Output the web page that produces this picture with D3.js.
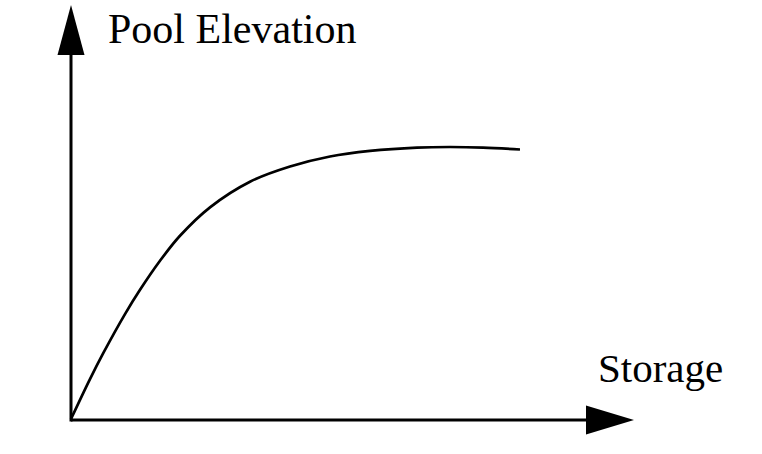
<!DOCTYPE html>
<html>
<head>
<meta charset="utf-8">
<script src="https://cdn.jsdelivr.net/npm/d3@7"></script>
<style>
  html, body { margin: 0; padding: 0; background: #fff; }
  svg { display: block; }
</style>
</head>
<body>
<svg id="chart" width="762" height="454"></svg>
<script>
// Data (abstract units, schematic curve)
const storage   = [0, 3.37, 5.68, 9.59, 12.26, 15.81, 19.36, 24.69, 31.79, 38.90, 46.00, 53.11, 61.46, 67.32, 73.18, 79.75];
const elevation = [0.24, 9.86, 15.98, 25.52, 31.37, 38.36, 44.39, 51.25, 57.42, 61.08, 63.49, 64.84, 65.64, 65.78, 65.64, 65.18];
const axisLabels = ["Storage", "Pool Elevation"];

const svg = d3.select("#chart");
const x = d3.scaleLinear().domain([0, 100]).range([71, 634]);
const y = d3.scaleLinear().domain([0, 100]).range([420, 5]);

// axes lines
svg.append("line").attr("x1", x(0)).attr("y1", y(0)).attr("x2", x(100) - 45).attr("y2", y(0))
  .attr("stroke", "#000").attr("stroke-width", 3);
svg.append("line").attr("x1", x(0)).attr("y1", y(0) + 1.5).attr("x2", x(0)).attr("y2", y(100) + 45)
  .attr("stroke", "#000").attr("stroke-width", 3);

// arrowheads
const xt = [x(100), y(0)];
svg.append("path")
  .attr("d", `M${xt[0]},${xt[1]} L${xt[0] - 48},${xt[1] - 14.5} L${xt[0] - 48},${xt[1] + 14.5} Z`)
  .attr("fill", "#000");
const yt = [x(0), y(100)];
svg.append("path")
  .attr("d", `M${yt[0]},${yt[1]} L${yt[0] - 13.5},${yt[1] + 50} L${yt[0] + 13.5},${yt[1] + 50} Z`)
  .attr("fill", "#000");

// curve
const pts = storage.map((s, i) => [s, elevation[i]]);
svg.append("path")
  .datum(pts)
  .attr("fill", "none")
  .attr("stroke", "#000")
  .attr("stroke-width", 2.7)
  .attr("d", d3.line().x(d => x(d[0])).y(d => y(d[1])).curve(d3.curveCatmullRom.alpha(0.5)));

// labels
svg.append("text").attr("x", 108).attr("y", 43)
  .attr("font-family", "'Liberation Serif', 'Times New Roman', serif")
  .attr("font-size", 42).attr("fill", "#000").text(axisLabels[1]);
svg.append("text").attr("x", 598).attr("y", 382)
  .attr("font-family", "'Liberation Serif', 'Times New Roman', serif")
  .attr("font-size", 41).attr("fill", "#000").text(axisLabels[0]);
</script>
</body>
</html>
